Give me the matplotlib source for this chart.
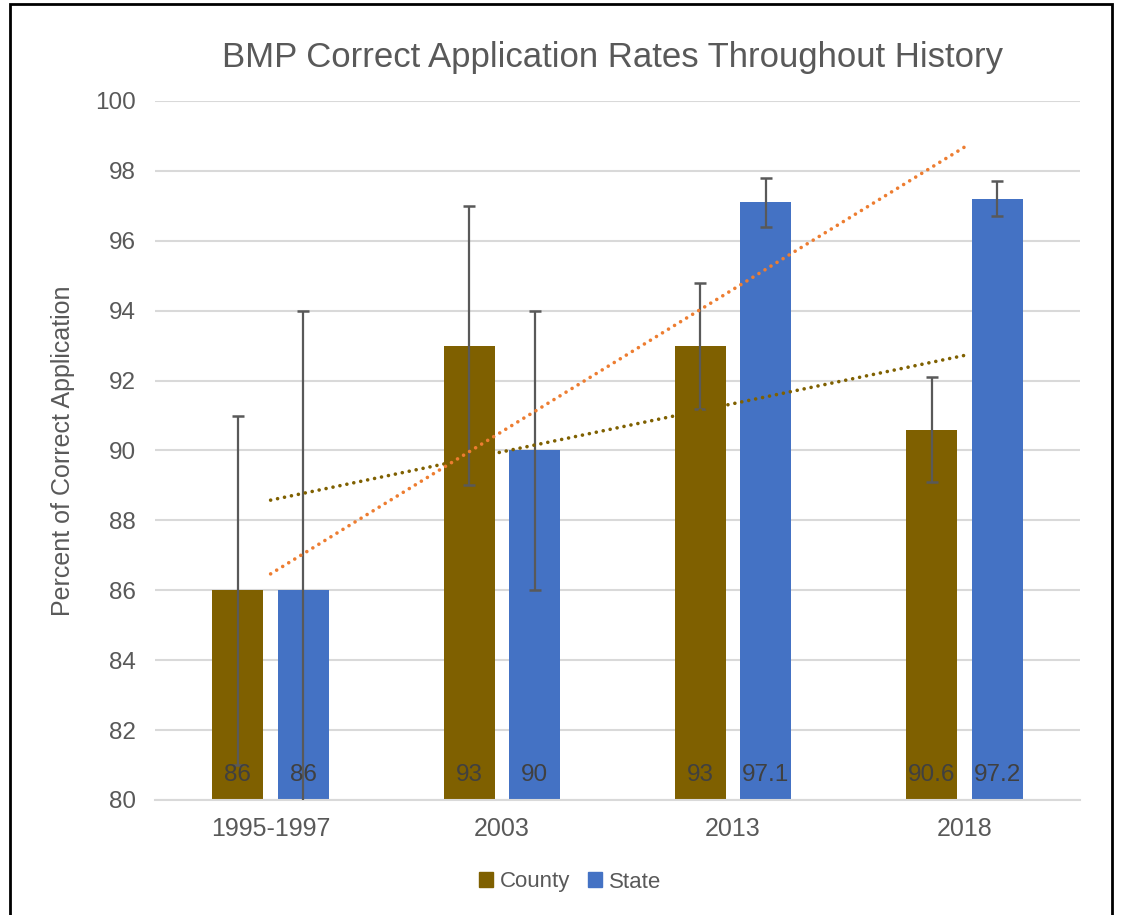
import matplotlib
matplotlib.use("Agg")
import matplotlib.pyplot as plt
import numpy as np
from matplotlib.patches import Rectangle

categories = ["1995-1997", "2003", "2013", "2018"]
county = [86, 93, 93, 90.6]
state = [86, 90, 97.1, 97.2]
county_err = [5, 4, 1.8, 1.5]
state_err = [8, 4, 0.7, 0.5]
yticks = [80, 82, 84, 86, 88, 90, 92, 94, 96, 98, 100]

COUNTY_C = "#7F6000"
STATE_C = "#4472C4"
TREND_STATE_C = "#ED7D31"
TEXT_C = "#595959"
FAM = ['Liberation Sans', 'DejaVu Sans']

plt.rcParams['font.family'] = FAM

fig = plt.figure(figsize=(11.21, 9.15), dpi=100)
ax = fig.add_axes([155/1121, 1 - 800/915, 925/1121, 699/915])

x = np.arange(len(categories))
w = 0.22
off = 0.1415

ax.bar(x - off, county, width=w, bottom=0, color=COUNTY_C, zorder=2, label="County")
ax.bar(x + off, state, width=w, bottom=0, color=STATE_C, zorder=2, label="State")

ax.errorbar(x - off, county, yerr=county_err, fmt="none", ecolor="#595959",
            elinewidth=1.6, capsize=4.5, capthick=1.8, zorder=3)
ax.errorbar(x + off, state, yerr=state_err, fmt="none", ecolor="#595959",
            elinewidth=1.6, capsize=4.5, capthick=1.8, zorder=3)

# linear trendlines
for vals, col in [(county, COUNTY_C), (state, TREND_STATE_C)]:
    p = np.polyfit(x, vals, 1)
    ax.plot(x, np.polyval(p, x), linestyle=(0, (0.01, 1.95)), color=col,
            linewidth=2.6, dash_capstyle="round", solid_capstyle="round", zorder=4)

for xi, v in zip(x, county):
    ax.text(xi - off, 80.72, f"{v:g}", ha="center", va="center", fontsize=17.5,
            color="#404040", zorder=5)
for xi, v in zip(x, state):
    ax.text(xi + off, 80.72, f"{v:g}", ha="center", va="center", fontsize=17.5,
            color="#404040", zorder=5)

ax.set_xlim(-0.5, 3.5)
ax.set_ylim(80, 100)
ax.set_yticks(yticks)
ax.set_xticks(x)
ax.set_xticklabels(categories)
ax.grid(axis="y", color="#D9D9D9", linewidth=1.5, zorder=0)
ax.set_axisbelow(True)
for s in ["top", "right", "left"]:
    ax.spines[s].set_visible(False)
ax.spines["bottom"].set_color("#D9D9D9")
ax.spines["bottom"].set_linewidth(1.5)
ax.tick_params(axis="y", length=0, labelsize=17.5, labelcolor=TEXT_C, pad=14)
ax.tick_params(axis="x", length=0, labelsize=18, labelcolor=TEXT_C, pad=12)

ax.set_ylabel("Percent of Correct Application", fontsize=18, color=TEXT_C, labelpad=14)

fig.text(612/1121, 1 - 58/915, "BMP Correct Application Rates Throughout History",
         ha="center", va="center", fontsize=25, color=TEXT_C)

handles = [Rectangle((0, 0), 1, 1, color=COUNTY_C), Rectangle((0, 0), 1, 1, color=STATE_C)]
leg = fig.legend(handles, ["County", "State"], loc="center", bbox_to_anchor=(570/1121, 1 - 882/915),
                 ncol=2, frameon=False, handlelength=0.65, handleheight=0.65,
                 handletextpad=0.3, columnspacing=0.8,
                 prop={'family': FAM, 'size': 16})
for t in leg.get_texts():
    t.set_color(TEXT_C)

# outer frame
fig.patches.append(Rectangle((10/1121, -0.01), 1102/1121, 1 - 4/915 + 0.01,
                             transform=fig.transFigure, fill=False, edgecolor="black",
                             linewidth=2))

fig.savefig("out.png", dpi=100)
